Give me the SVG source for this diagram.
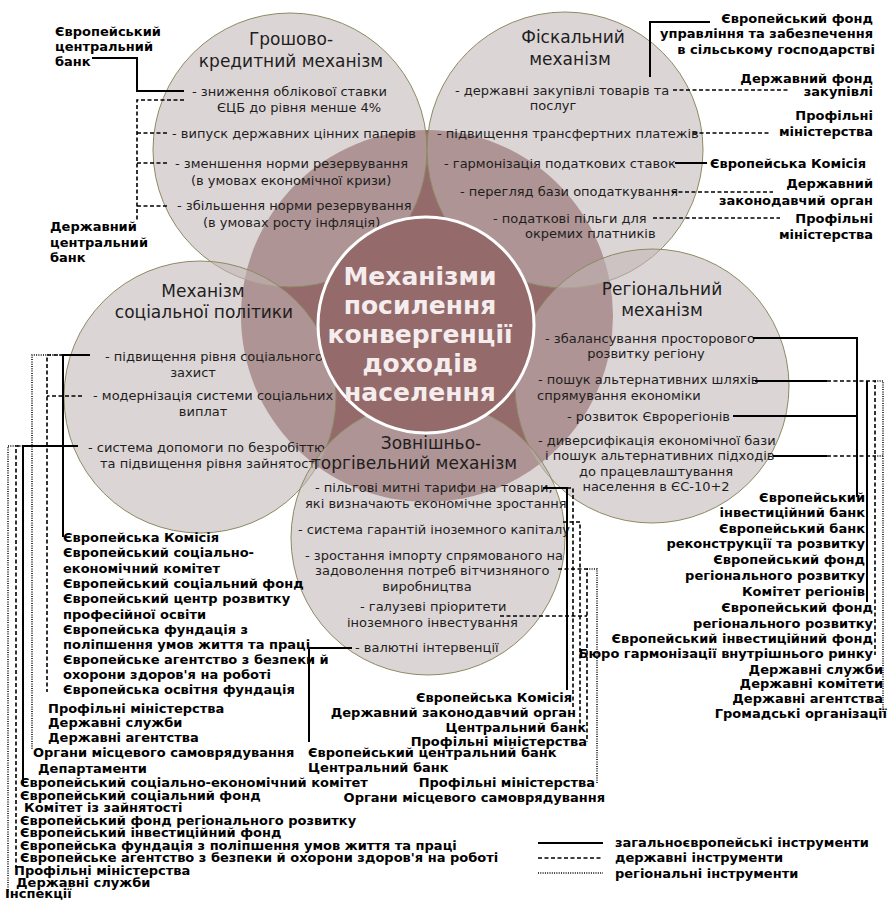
<svg xmlns="http://www.w3.org/2000/svg" width="890" height="900" viewBox="0 0 890 900">
<style>
.bg{fill:#946a6a}
.c{fill:#c2b6b6;fill-opacity:0.57;stroke:#8c8a62;stroke-width:1}
.in{fill:#946a6a;stroke:#ffffff;stroke-width:3}
text{font-family:"DejaVu Sans",Verdana,sans-serif;fill:#1e1e1e}
.t{font-size:13px}
.h{font-size:17px}
.m{text-anchor:middle}
.e{text-anchor:end}
.b{font-size:13px;font-weight:bold;fill:#000}
.ct{font-size:25px;font-weight:bold;fill:#f5eded;text-anchor:middle}
.s{stroke:#000;stroke-width:2;fill:none}
.d{stroke:#000;stroke-width:1.6;stroke-dasharray:4 2.5;fill:none}
.o{stroke:#000;stroke-width:1.5;stroke-dasharray:1 1.3;fill:none}
</style>
<rect width="890" height="900" fill="#ffffff"/>
<circle class="bg" cx="427" cy="316" r="186"/>
<g id="monetary">
<circle class="c" cx="290" cy="150" r="137"/>
<text class="h m" x="291" y="45">Грошово-</text>
<text class="h m" x="291" y="67">кредитний механізм</text>
<text class="t" x="192" y="96">- зниження облікової ставки</text>
<text class="t" x="217" y="112">ЄЦБ до рівня менше 4%</text>
<text class="t" x="172" y="138">- випуск державних цінних паперів</text>
<text class="t" x="175" y="168">- зменшення норми резервування</text>
<text class="t" x="191" y="185">(в умовах економічної кризи)</text>
<text class="t" x="177" y="210">- збільшення норми резервування</text>
<text class="t" x="203" y="227">(в умовах росту інфляція)</text>
</g>
<g id="fiscal">
<circle class="c" cx="565" cy="150" r="138"/>
<text class="h m" x="573" y="43">Фіскальний</text>
<text class="h m" x="570" y="65">механізм</text>
<text class="t" x="455" y="95">- державні закупівлі товарів та</text>
<text class="t m" x="553" y="110">послуг</text>
<text class="t" x="437" y="138">- підвищення трансфертних платежів</text>
<text class="t" x="444" y="168">- гармонізація податкових ставок</text>
<text class="t" x="460" y="196">- перегляд бази оподаткування</text>
<text class="t" x="493" y="223">- податкові пільги для</text>
<text class="t" x="525" y="238">окремих платників</text>
</g>
<g id="social">
<circle class="c" cx="200" cy="397" r="136"/>
<text class="h m" x="203" y="297">Механізм</text>
<text class="h m" x="204" y="318">соціальної політики</text>
<text class="t" x="105" y="361">- підвищення рівня соціального</text>
<text class="t m" x="193" y="377">захист</text>
<text class="t" x="93" y="400">- модернізація системи соціальних</text>
<text class="t m" x="203" y="416">виплат</text>
<text class="t" x="88" y="452">- система допомоги по безробіттю</text>
<text class="t" x="100" y="468">та підвищення рівня зайнятості</text>
</g>
<g id="regional">
<circle class="c" cx="652" cy="386" r="137"/>
<text class="h m" x="662" y="295">Регіональний</text>
<text class="h m" x="662" y="316">механізм</text>
<text class="t" x="545" y="343">- збалансування просторового</text>
<text class="t m" x="646" y="358">розвитку регіону</text>
<text class="t" x="538" y="384">- пошук альтернативних шляхів</text>
<text class="t" x="537" y="400">спрямування економіки</text>
<text class="t" x="567" y="421">- розвиток Єврорегіонів</text>
<text class="t" x="538" y="445">- диверсифікація економічної бази</text>
<text class="t" x="545" y="460">і пошук альтернативних підходів</text>
<text class="t m" x="656" y="476">до працевлаштування</text>
<text class="t m" x="656" y="491">населення в ЄС-10+2</text>
</g>
<g id="trade">
<circle class="c" cx="428" cy="538" r="137"/>
</g>
<g id="core">
<circle class="in" cx="426" cy="325" r="108"/>
<text class="ct" x="420" y="285">Механізми</text>
<text class="ct" x="420" y="314">посилення</text>
<text class="ct" x="420" y="343">конвергенції</text>
<text class="ct" x="420" y="372">доходів</text>
<text class="ct" x="420" y="401">населення</text>
</g>
<g id="trade-text">
<text class="h m" x="431" y="449">Зовнішньо-</text>
<text class="h m" x="414" y="469">торгівельний механізм</text>
<text class="t" x="315" y="492">- пільгові митні тарифи на товари,</text>
<text class="t" x="305" y="508">які визначають економічне зростання</text>
<text class="t" x="298" y="534">- система гарантій іноземного капіталу</text>
<text class="t" x="305" y="560">- зростання імпорту спрямованого на</text>
<text class="t" x="315" y="575">задоволення потреб вітчизняного</text>
<text class="t m" x="427" y="591">виробництва</text>
<text class="t" x="360" y="611">- галузеві пріоритети</text>
<text class="t" x="347" y="627">іноземного інвестування</text>
<text class="t" x="355" y="652">- валютні інтервенції</text>
</g>
<g id="connectors">
<path class="s" d="M92,58 H137 V91 H184"/>
<path class="d" d="M184,100 H137 V222 M137,133 H167 M137,163 H167 M137,206 H167"/>
<path class="s" d="M710,22 H650 V77"/>
<path class="d" d="M673,90 H788 M693,133 H770 M672,192 H773 M653,218 H780"/>
<path class="s" d="M675,163 H707"/>
<path class="o" d="M90,355 H32 V750"/>
<path class="d" d="M90,355 H47 V692 M82,396 H47"/>
<path class="s" d="M90,355 H63 V537"/>
<path class="o" d="M78,446 H8 V892"/>
<path class="d" d="M78,446 H16 V868"/>
<path class="s" d="M78,446 H23 V785"/>
<path class="s" d="M543,488 H567 V690"/>
<path class="d" d="M567,488 H573 V707 M563,522 H580 V727 M558,569 H587 V742 M500,616 H587"/>
<path class="o" d="M587,569 H597 V783"/>
<path class="s" d="M352,648 H309 V742"/>
<path class="s" d="M753,338 H857 V497 M733,416 H857"/>
<path class="s" d="M755,381 H827 M773,456 H827 M867,381 V602"/>
<path class="d" d="M827,381 H875 V655 M827,456 H875"/>
<path class="o" d="M875,381 H883 V712 M875,456 H883"/>
</g>
<g id="lbl-ecb">
<text class="b" x="55" y="36">Європейський</text>
<text class="b" x="55" y="51">центральний</text>
<text class="b" x="55" y="66">банк</text>
</g>
<g id="lbl-ncb">
<text class="b" x="50" y="231">Державний</text>
<text class="b" x="50" y="247">центральний</text>
<text class="b" x="50" y="262">банк</text>
</g>
<g id="lbl-fiscal">
<text class="b e" x="873" y="23">Європейський фонд</text>
<text class="b e" x="873" y="38">управління та забезпечення</text>
<text class="b e" x="875" y="54">в сільському господарстві</text>
<text class="b e" x="873" y="83">Державний фонд</text>
<text class="b e" x="873" y="96">закупівлі</text>
<text class="b e" x="873" y="120">Профільні</text>
<text class="b e" x="873" y="136">міністерства</text>
<text class="b" x="710" y="168">Європейська Комісія</text>
<text class="b e" x="873" y="188">Державний</text>
<text class="b e" x="873" y="205">законодавчий орган</text>
<text class="b e" x="873" y="223">Профільні</text>
<text class="b e" x="873" y="239">міністерства</text>
</g>
<g id="lbl-social-eu">
<text class="b" x="63" y="542">Європейська Комісія</text>
<text class="b" x="63" y="557">Європейський соціально-</text>
<text class="b" x="63" y="573">економічний комітет</text>
<text class="b" x="63" y="588">Європейський соціальний фонд</text>
<text class="b" x="63" y="603">Європейський центр розвитку</text>
<text class="b" x="63" y="619">професійної освіти</text>
<text class="b" x="63" y="634">Європейська фундація з</text>
<text class="b" x="63" y="649">поліпшення умов життя та праці</text>
<text class="b" x="63" y="664">Європейське агентство з безпеки й</text>
<text class="b" x="63" y="679">охорони здоров'я на роботі</text>
<text class="b" x="63" y="694">Європейська освітня фундація</text>
</g>
<g id="lbl-social-state">
<text class="b" x="48" y="713">Профільні міністерства</text>
<text class="b" x="48" y="727">Державні служби</text>
<text class="b" x="48" y="742">Державні агентства</text>
</g>
<g id="lbl-social-reg">
<text class="b" x="33" y="757">Органи місцевого самоврядування</text>
<text class="b" x="38" y="773">Департаменти</text>
</g>
<g id="lbl-employment">
<text class="b" x="20" y="787">Європейський соціально-економічний комітет</text>
<text class="b" x="20" y="800">Європейський соціальний фонд</text>
<text class="b" x="24" y="812">Комітет із зайнятості</text>
<text class="b" x="20" y="825">Європейський фонд регіонального розвитку</text>
<text class="b" x="20" y="837">Європейський інвестиційний фонд</text>
<text class="b" x="20" y="850">Європейська фундація з поліпшення умов життя та праці</text>
<text class="b" x="20" y="862">Європейське агентство з безпеки й охорони здоров'я на роботі</text>
<text class="b" x="14" y="875">Профільні міністерства</text>
<text class="b" x="16" y="887">Державні служби</text>
<text class="b" x="5" y="898">Інспекції</text>
</g>
<g id="lbl-trade">
<text class="b e" x="572" y="702">Європейська Комісія</text>
<text class="b e" x="576" y="717">Державний законодавчий орган</text>
<text class="b e" x="586" y="732">Центральний банк</text>
<text class="b e" x="587" y="746">Профільні міністерства</text>
<text class="b" x="308" y="757">Європейський центральний банк</text>
<text class="b" x="308" y="772">Центральний банк</text>
<text class="b e" x="595" y="787">Профільні міністерства</text>
<text class="b e" x="605" y="802">Органи місцевого самоврядування</text>
</g>
<g id="lbl-regional">
<text class="b e" x="865" y="502">Європейський</text>
<text class="b e" x="865" y="517">інвестиційний банк</text>
<text class="b e" x="865" y="533">Європейський банк</text>
<text class="b e" x="865" y="548">реконструкції та розвитку</text>
<text class="b e" x="865" y="564">Європейський фонд</text>
<text class="b e" x="865" y="580">регіонального розвитку</text>
<text class="b e" x="865" y="596">Комітет регіонів</text>
<text class="b e" x="873" y="612">Європейський фонд</text>
<text class="b e" x="873" y="628">регіонального розвитку</text>
<text class="b e" x="873" y="643">Європейський інвестиційний фонд</text>
<text class="b e" x="873" y="658">Бюро гармонізації внутрішнього ринку</text>
<text class="b e" x="883" y="674">Державні служби</text>
<text class="b e" x="883" y="688">Державні комітети</text>
<text class="b e" x="883" y="703">Державні агентства</text>
<text class="b e" x="887" y="718">Громадські організації</text>
</g>
<g id="legend">
<path class="s" d="M538,843 H603"/>
<path class="d" d="M538,858 H603"/>
<path class="o" d="M538,873 H603"/>
<text class="b" x="615" y="847">загальноєвропейські інструменти</text>
<text class="b" x="615" y="862">державні інструменти</text>
<text class="b" x="615" y="878">регіональні інструменти</text>
</g>
</svg>
